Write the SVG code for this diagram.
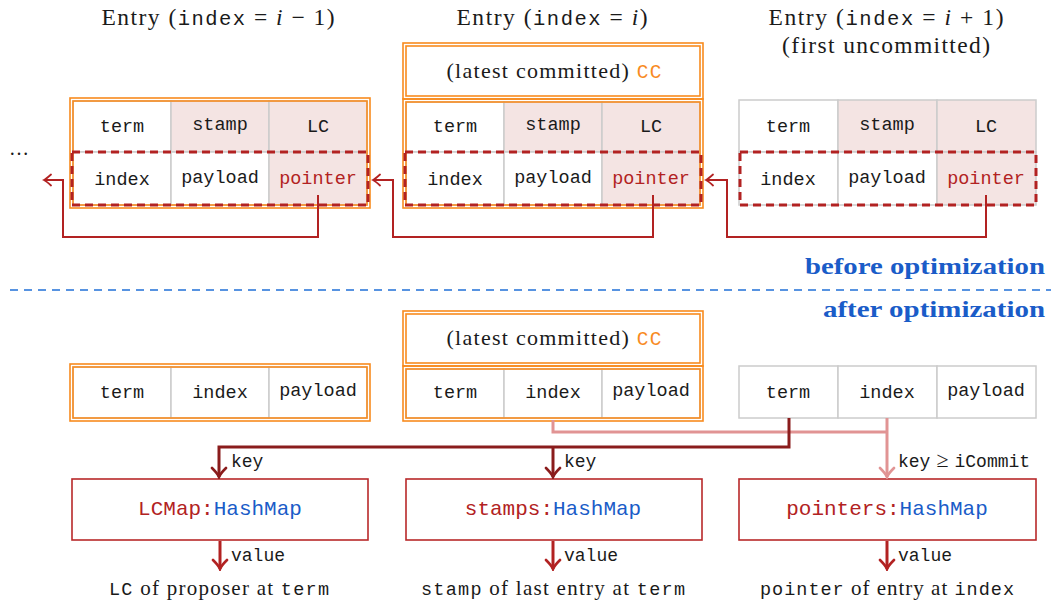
<svg xmlns="http://www.w3.org/2000/svg" width="1051" height="605" viewBox="0 0 1051 605">
<style>
.serif{font-family:"Liberation Serif","Times New Roman",serif;fill:#1a1a1a}
.mono{font-family:"Liberation Mono","Courier New",monospace;fill:#1a1a1a}
.cellt{font-family:"Liberation Mono","Courier New",monospace;font-size:18.5px;fill:#1a1a1a;text-anchor:middle}
.cell{fill:#ffffff;stroke:#cccccc;stroke-width:1.5}
.pk{fill:#f4e4e3}
.or{fill:none;stroke:#f88b1f;stroke-width:1.6}
.dash{fill:none;stroke:#b22222;stroke-width:3;stroke-dasharray:8 5}
.red{fill:#b22222}
.blue{fill:#1a5cc8}
.orangetxt{fill:#f88b1f}
.map{fill:#ffffff;stroke:#b8282a;stroke-width:1.6}
.ptr{fill:none;stroke:#b22222;stroke-width:2}
.dk{fill:none;stroke:#8a1c1c;stroke-width:3}
.pl{fill:none;stroke:#e19494;stroke-width:3}
.val{fill:none;stroke:#b22222;stroke-width:3}
</style>
<defs>
<marker id="aTop" viewBox="-9 -7 11 14" refX="0" refY="0" markerWidth="11" markerHeight="14" markerUnits="userSpaceOnUse" orient="auto">
<path d="M-7,-5.5 Q-2,-1 0,0 Q-2,1 -7,5.5" fill="none" stroke="#b22222" stroke-width="1.8" stroke-linecap="round"/>
</marker>
<marker id="aDk" viewBox="-12 -9 14 18" refX="0" refY="0" markerWidth="14" markerHeight="18" markerUnits="userSpaceOnUse" orient="auto">
<path d="M-9,-7 Q-3,-1 0,0 Q-3,1 -9,7" fill="none" stroke="#8a1c1c" stroke-width="2.6" stroke-linecap="round"/>
</marker>
<marker id="aPl" viewBox="-12 -9 14 18" refX="0" refY="0" markerWidth="14" markerHeight="18" markerUnits="userSpaceOnUse" orient="auto">
<path d="M-9,-7 Q-3,-1 0,0 Q-3,1 -9,7" fill="none" stroke="#e19494" stroke-width="2.6" stroke-linecap="round"/>
</marker>
<marker id="aRd" viewBox="-12 -9 14 18" refX="0" refY="0" markerWidth="14" markerHeight="18" markerUnits="userSpaceOnUse" orient="auto">
<path d="M-9,-7 Q-3,-1 0,0 Q-3,1 -9,7" fill="none" stroke="#b22222" stroke-width="2.6" stroke-linecap="round"/>
</marker>
</defs>
<rect x="0" y="0" width="1051" height="605" fill="#ffffff"/>

<!-- titles -->
<g id="titles">
<text class="serif" x="218" y="25" font-size="23.5" text-anchor="middle" textLength="233" lengthAdjust="spacing">Entry (<tspan class="mono" font-size="20.5">index</tspan> = <tspan font-style="italic">i</tspan> − 1)</text>
<text class="serif" x="552" y="25" font-size="23.5" text-anchor="middle" textLength="191" lengthAdjust="spacing">Entry (<tspan class="mono" font-size="20.5">index</tspan> = <tspan font-style="italic">i</tspan>)</text>
<text class="serif" x="886" y="25" font-size="23.5" text-anchor="middle" textLength="235" lengthAdjust="spacing">Entry (<tspan class="mono" font-size="20.5">index</tspan> = <tspan font-style="italic">i</tspan> + 1)</text>
<text class="serif" x="886" y="53" font-size="23.5" text-anchor="middle" textLength="208" lengthAdjust="spacing">(first uncommitted)</text>
<text class="serif" x="19" y="155" font-size="20" text-anchor="middle">…</text>
</g>

<!-- before: entry i-1 -->
<g id="entry-prev">
<rect class="cell" x="73" y="101" width="98" height="51"/>
<rect class="cell pk" x="171" y="101" width="98" height="51"/>
<rect class="cell pk" x="269" y="101" width="98" height="51"/>
<rect class="cell" x="73" y="152" width="98" height="53"/>
<rect class="cell" x="171" y="152" width="98" height="53"/>
<rect class="cell pk" x="269" y="152" width="98" height="53"/>
<rect class="or" x="70" y="98" width="300" height="110"/>
<rect class="or" x="73" y="101" width="294" height="104"/>
<rect class="dash" x="72" y="152" width="296" height="53"/>
<text class="cellt" x="122" y="132">term</text>
<text class="cellt" x="220" y="130">stamp</text>
<text class="cellt" x="318" y="132">LC</text>
<text class="cellt" x="122" y="185">index</text>
<text class="cellt" x="220" y="183">payload</text>
<text class="cellt red" x="318" y="184">pointer</text>
</g>

<!-- before: entry i -->
<g id="entry-cur">
<rect class="or" x="403" y="43" width="300" height="56" fill="#fff"/>
<rect class="or" x="406" y="46" width="294" height="50"/>
<text class="serif" x="554" y="78" font-size="22" text-anchor="middle" textLength="215" lengthAdjust="spacing">(latest committed) <tspan class="mono orangetxt" font-size="19.5">CC</tspan></text>
<rect class="cell" x="406" y="102" width="98" height="50"/>
<rect class="cell pk" x="504" y="102" width="98" height="50"/>
<rect class="cell pk" x="602" y="102" width="98" height="50"/>
<rect class="cell" x="406" y="152" width="98" height="53"/>
<rect class="cell" x="504" y="152" width="98" height="53"/>
<rect class="cell pk" x="602" y="152" width="98" height="53"/>
<rect class="or" x="403" y="99" width="300" height="109"/>
<rect class="or" x="406" y="102" width="294" height="103"/>
<rect class="dash" x="405" y="152" width="296" height="53"/>
<text class="cellt" x="455" y="132">term</text>
<text class="cellt" x="553" y="130">stamp</text>
<text class="cellt" x="651" y="132">LC</text>
<text class="cellt" x="455" y="185">index</text>
<text class="cellt" x="553" y="183">payload</text>
<text class="cellt red" x="651" y="184">pointer</text>
</g>

<!-- before: entry i+1 -->
<g id="entry-next">
<rect class="cell" x="739" y="100" width="99" height="52"/>
<rect class="cell pk" x="838" y="100" width="99" height="52"/>
<rect class="cell pk" x="937" y="100" width="99" height="52"/>
<rect class="cell" x="739" y="152" width="99" height="53"/>
<rect class="cell" x="838" y="152" width="99" height="53"/>
<rect class="cell pk" x="937" y="152" width="99" height="53"/>
<rect class="dash" x="740" y="152" width="296" height="53"/>
<text class="cellt" x="788" y="132">term</text>
<text class="cellt" x="887" y="130">stamp</text>
<text class="cellt" x="986" y="132">LC</text>
<text class="cellt" x="788" y="185">index</text>
<text class="cellt" x="887" y="183">payload</text>
<text class="cellt red" x="986" y="184">pointer</text>
</g>

<!-- separator -->
<g id="separator">
<text class="serif blue" x="1045" y="274" font-size="23" font-weight="bold" text-anchor="end" textLength="240" lengthAdjust="spacingAndGlyphs">before optimization</text>
<line x1="10" y1="290" x2="1051" y2="290" stroke="#2070d8" stroke-width="1.6" stroke-dasharray="8 6"/>
<text class="serif blue" x="1045" y="317" font-size="23" font-weight="bold" text-anchor="end" textLength="222" lengthAdjust="spacingAndGlyphs">after optimization</text>
</g>

<!-- after: left entry -->
<g id="opt-prev">
<rect class="cell" x="73" y="367" width="98" height="51"/>
<rect class="cell" x="171" y="367" width="98" height="51"/>
<rect class="cell" x="269" y="367" width="98" height="51"/>
<rect class="or" x="70" y="364" width="300" height="57"/>
<rect class="or" x="73" y="367" width="294" height="51"/>
<text class="cellt" x="122" y="398">term</text>
<text class="cellt" x="220" y="398">index</text>
<text class="cellt" x="318" y="396">payload</text>
</g>

<!-- after: middle entry -->
<g id="opt-cur">
<rect class="or" x="403" y="311" width="300" height="55" fill="#fff"/>
<rect class="or" x="406" y="314" width="294" height="49"/>
<text class="serif" x="554" y="345" font-size="22" text-anchor="middle" textLength="215" lengthAdjust="spacing">(latest committed) <tspan class="mono orangetxt" font-size="19.5">CC</tspan></text>
<rect class="cell" x="406" y="369" width="98" height="49"/>
<rect class="cell" x="504" y="369" width="98" height="49"/>
<rect class="cell" x="602" y="369" width="98" height="49"/>
<rect class="or" x="403" y="366" width="300" height="55"/>
<rect class="or" x="406" y="369" width="294" height="49"/>
<text class="cellt" x="455" y="398">term</text>
<text class="cellt" x="553" y="398">index</text>
<text class="cellt" x="651" y="396">payload</text>
</g>

<!-- after: right entry -->
<g id="opt-next">
<rect class="cell" x="739" y="366" width="99" height="52"/>
<rect class="cell" x="838" y="366" width="99" height="52"/>
<rect class="cell" x="937" y="366" width="99" height="52"/>
<text class="cellt" x="788" y="398">term</text>
<text class="cellt" x="887" y="398">index</text>
<text class="cellt" x="986" y="396">payload</text>
</g>

<!-- hash maps -->
<g id="lcmap">
<rect class="map" x="72" y="479" width="296" height="61"/>
<text class="mono" x="220" y="515" font-size="21" text-anchor="middle"><tspan class="red">LCMap:</tspan><tspan class="blue">HashMap</tspan></text>
</g>
<g id="stamps">
<rect class="map" x="406" y="479" width="296" height="61"/>
<text class="mono" x="553" y="515" font-size="21" text-anchor="middle"><tspan class="red">stamps:</tspan><tspan class="blue">HashMap</tspan></text>
</g>
<g id="pointers">
<rect class="map" x="739" y="479" width="297" height="61"/>
<text class="mono" x="887" y="515" font-size="21" text-anchor="middle"><tspan class="red">pointers:</tspan><tspan class="blue">HashMap</tspan></text>
</g>

<!-- value results -->
<g id="results">
<text class="serif" x="219" y="595" font-size="21" text-anchor="middle" textLength="220" lengthAdjust="spacing"><tspan class="mono" font-size="18.5">LC</tspan> of proposer at <tspan class="mono" font-size="18.5">term</tspan></text>
<text class="serif" x="553" y="595" font-size="21" text-anchor="middle" textLength="264" lengthAdjust="spacing"><tspan class="mono" font-size="18.5">stamp</tspan> of last entry at <tspan class="mono" font-size="18.5">term</tspan></text>
<text class="serif" x="887" y="595" font-size="21" text-anchor="middle" textLength="254" lengthAdjust="spacing"><tspan class="mono" font-size="18.5">pointer</tspan> of entry at <tspan class="mono" font-size="18.5">index</tspan></text>
</g>

<!-- connectors -->
<g id="connectors">
<path class="ptr" d="M318,195 V237 H63 V180 H44" marker-end="url(#aTop)"/>
<path class="ptr" d="M653,195 V237 H393 V180 H373" marker-end="url(#aTop)"/>
<path class="ptr" d="M986,195 V237 H727 V180 H706" marker-end="url(#aTop)"/>

<path class="pl" d="M553,420 V432 H887"/>
<path class="pl" d="M887,418 V477" marker-end="url(#aPl)"/>
<path class="dk" d="M789,418 V447 H219 V477" marker-end="url(#aDk)"/>
<path class="dk" d="M553,447 V477" marker-end="url(#aDk)"/>
<text class="mono" x="231" y="467" font-size="18">key</text>
<text class="mono" x="564" y="467" font-size="18">key</text>
<text class="mono" x="898" y="467" font-size="18">key<tspan class="serif" font-size="22" dx="6">≥</tspan><tspan dx="6">iCommit</tspan></text>

<path class="val" d="M220,541 V569" marker-end="url(#aRd)"/>
<path class="val" d="M553,541 V569" marker-end="url(#aRd)"/>
<path class="val" d="M887,541 V569" marker-end="url(#aRd)"/>
<text class="mono" x="231" y="561" font-size="18">value</text>
<text class="mono" x="564" y="561" font-size="18">value</text>
<text class="mono" x="898" y="561" font-size="18">value</text>
</g>
</svg>
